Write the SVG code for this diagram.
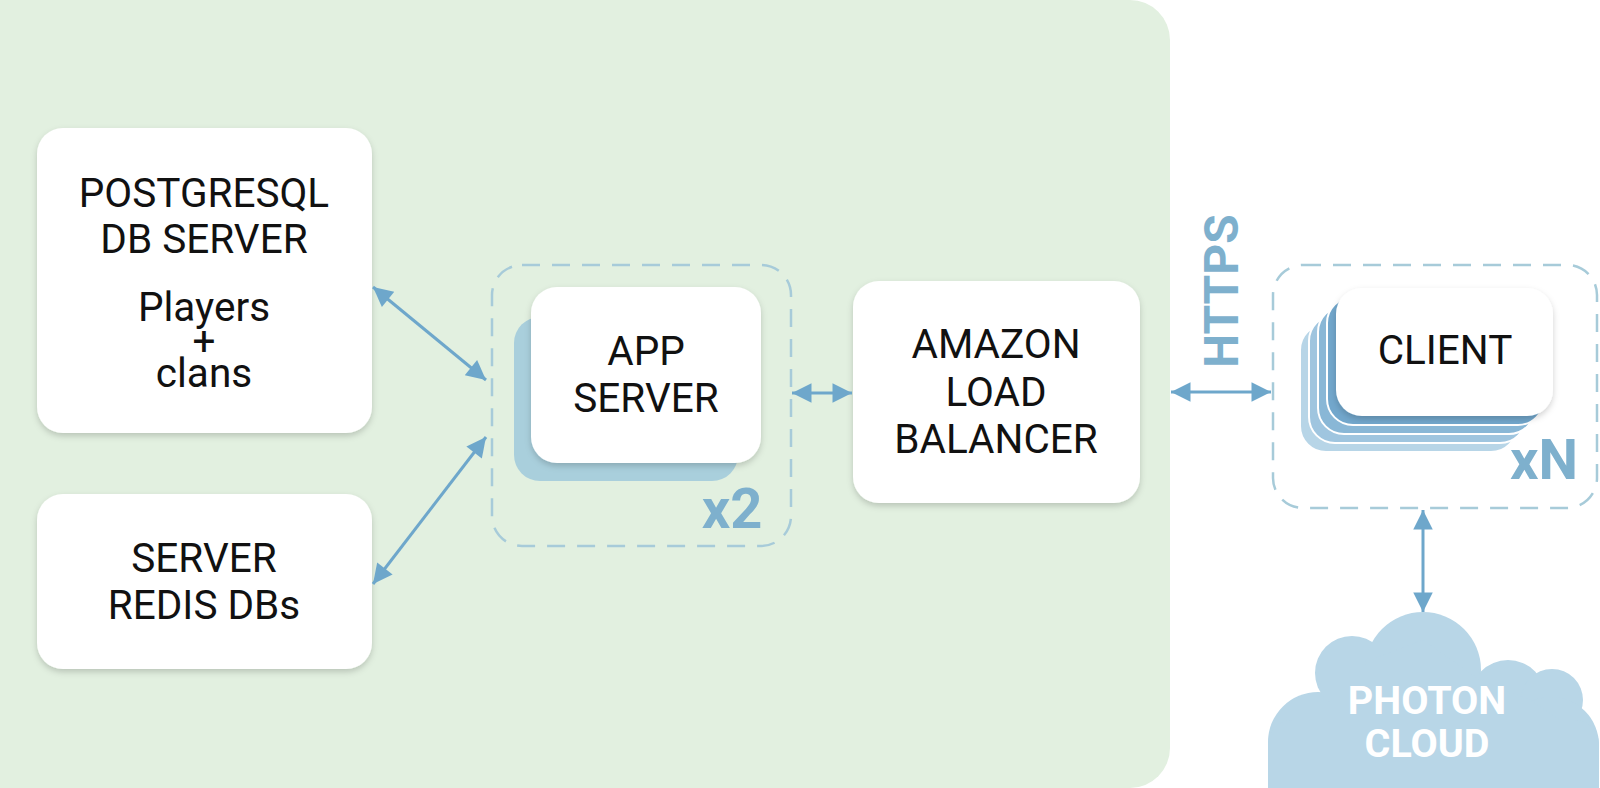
<svg xmlns="http://www.w3.org/2000/svg" width="1600" height="788" viewBox="0 0 1600 788">
<defs>
<style>
.box{fill:#ffffff;filter:url(#sh);}
.lbl{font-family:Roboto,"Liberation Sans",sans-serif;font-size:40.5px;fill:#111111;text-anchor:middle;}
.mult{font-family:Roboto,"Liberation Sans",sans-serif;font-weight:bold;font-size:56px;fill:#7eb0cd;}
.dash{fill:none;stroke:#a7cbd9;stroke-width:2.5;stroke-dasharray:18 12;}
.conn{stroke:#6ea7cb;stroke-width:3;fill:none;marker-start:url(#ah);marker-end:url(#ah);}
.layer{stroke:#ffffff;stroke-width:2;}
.cl{font-family:Roboto,"Liberation Sans",sans-serif;font-weight:bold;font-size:39.5px;fill:#ffffff;text-anchor:middle;}
</style>
<filter id="sh" x="-10%" y="-10%" width="120%" height="125%">
<feDropShadow dx="0" dy="3" stdDeviation="3" flood-color="#000000" flood-opacity="0.18"/>
</filter>
<marker id="ah" viewBox="0 0 10 10" refX="10" refY="5" markerWidth="7" markerHeight="6.5" orient="auto-start-reverse" markerUnits="strokeWidth">
<path d="M0,0 L10,5 L0,10 z" fill="#6ea7cb"/>
</marker>
</defs>
<rect x="-40" y="0" width="1210" height="788" rx="40" fill="#e2f0e0"/>
<g id="postgres">
<rect class="box" x="37" y="128" width="335" height="305" rx="26"/>
<text class="lbl" x="204" y="207">POSTGRESQL</text>
<text class="lbl" x="204" y="253">DB SERVER</text>
<text class="lbl"><tspan x="204" y="321">Players</tspan><tspan x="204" y="355">+</tspan><tspan x="204" y="387">clans</tspan></text>
</g>
<g id="redis">
<rect class="box" x="37" y="494" width="335" height="175" rx="26"/>
<text class="lbl" x="204" y="572">SERVER</text>
<text class="lbl" x="204" y="619">REDIS DBs</text>
</g>
<g id="appserver">
<rect class="dash" x="492" y="265" width="299" height="281" rx="30"/>
<rect x="514" y="317" width="224" height="164" rx="26" fill="#a9cfdc"/>
<rect class="box" x="531" y="287" width="230" height="176" rx="26"/>
<text class="lbl" x="646" y="365">APP</text>
<text class="lbl" x="646" y="412">SERVER</text>
<text class="mult" x="732" y="528" text-anchor="middle">x2</text>
</g>
<g id="loadbalancer">
<rect class="box" x="853" y="281" width="287" height="222" rx="26"/>
<text class="lbl" x="996" y="358">AMAZON</text>
<text class="lbl" x="996" y="406">LOAD</text>
<text class="lbl" x="996" y="453">BALANCER</text>
</g>
<g id="client">
<rect class="dash" x="1273" y="265" width="324" height="243" rx="30"/>
<rect class="layer" x="1300" y="324" width="217" height="128" rx="26" fill="#b7d5e7"/>
<rect class="layer" x="1309" y="315" width="217" height="128" rx="26" fill="#9fc5df"/>
<rect class="layer" x="1318" y="306" width="217" height="128" rx="26" fill="#89b7d6"/>
<rect class="layer" x="1327" y="297" width="217" height="128" rx="26" fill="#72a7cc"/>
<rect class="box" x="1336" y="288" width="217" height="128" rx="26"/>
<text class="lbl" x="1445" y="364">CLIENT</text>
<text class="mult" x="1544" y="479" text-anchor="middle">xN</text>
</g>
<g id="photon">
<g fill="#b8d6e7">
<circle cx="1318" cy="742" r="50"/>
<circle cx="1352" cy="673" r="37"/>
<circle cx="1423" cy="670" r="58"/>
<circle cx="1508" cy="698" r="38"/>
<circle cx="1552" cy="700" r="31"/>
<circle cx="1551" cy="745" r="48"/>
<rect x="1268" y="720" width="331" height="100" rx="24"/>
<polygon points="1300,760 1330,700 1370,660 1423,640 1480,680 1530,700 1560,720 1560,788 1300,788"/>
</g>
<text class="cl" x="1427" y="714">PHOTON</text>
<text class="cl" x="1427" y="757">CLOUD</text>
</g>
<g id="connectors">
<line class="conn" x1="373" y1="287" x2="486" y2="380"/>
<line class="conn" x1="373" y1="584" x2="486" y2="437"/>
<line class="conn" x1="792" y1="393" x2="852" y2="393"/>
<line class="conn" x1="1171" y1="392" x2="1271" y2="392"/>
<line class="conn" x1="1423" y1="510" x2="1423" y2="612"/>
<text x="1238" y="291" transform="rotate(-90 1238 291)" font-family="Roboto,'Liberation Sans',sans-serif" font-weight="bold" font-size="48" fill="#7eb0cd" text-anchor="middle">HTTPS</text>
</g>
</svg>
